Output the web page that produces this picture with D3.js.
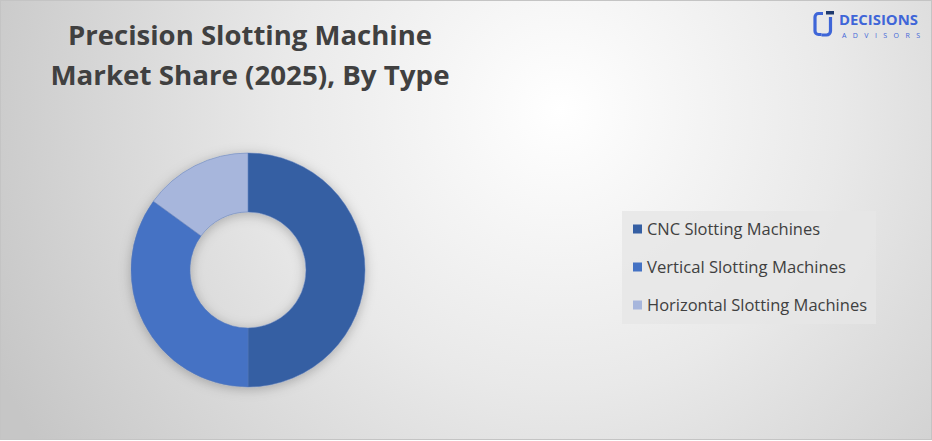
<!DOCTYPE html>
<html><head><meta charset="utf-8">
<script src="https://cdn.jsdelivr.net/npm/d3@7"></script>
<style>html,body{margin:0;padding:0;background:#fff;}svg{display:block;}</style>
</head><body>
<script>
const categories = ["CNC Slotting Machines", "Vertical Slotting Machines", "Horizontal Slotting Machines"];
const shares = [50, 35, 15];
const colors = ["#355FA3", "#4472C4", "#A7B6DC"];
const titleLines = ["Precision Slotting Machine", "Market Share (2025), By Type"];

const W = 932, H = 441;
const svg = d3.select("body").append("svg").attr("width", W).attr("height", H);
const defs = svg.append("defs");
const rg = defs.append("radialGradient").attr("id", "bg").attr("gradientUnits", "userSpaceOnUse")
  .attr("cx", 560).attr("cy", 110).attr("r", 620);
rg.append("stop").attr("offset", "0").attr("stop-color", "#ffffff");
rg.append("stop").attr("offset", "0.45").attr("stop-color", "#e9e9e9");
rg.append("stop").attr("offset", "1").attr("stop-color", "#c6c6c6");
const sh = defs.append("filter").attr("id", "shadow").attr("x", "-30%").attr("y", "-30%").attr("width", "160%").attr("height", "160%");
sh.append("feDropShadow").attr("dx", 0).attr("dy", 2).attr("stdDeviation", 6).attr("flood-color", "#000").attr("flood-opacity", 0.25);

svg.append("rect").attr("x", 0.5).attr("y", 0.5).attr("width", W - 1).attr("height", H - 2)
  .attr("fill", "url(#bg)").attr("stroke", "#c4c4c4");

// title
const title = svg.append("g");
titleLines.forEach((t, i) => {
  title.append("text").attr("x", 250).attr("y", 45 + i * 39.5).attr("text-anchor", "middle")
    .attr("font-family", "'Open Sans', sans-serif").attr("font-weight", 700)
    .attr("font-size", 27).attr("fill", "#404040").text(t);
});
const targetW = [364, 399];
title.selectAll("text").each(function(d, i) {
  d3.select(this).attr("textLength", targetW[i]).attr("lengthAdjust", "spacingAndGlyphs");
});

// donut
const cx = 248, cy = 270, rO = 117, rI = 58;
const pie = d3.pie().sort(null).value(d => d)(shares);
const arc = d3.arc().innerRadius(rI).outerRadius(rO);
const g = svg.append("g").attr("transform", `translate(${cx},${cy})`).attr("filter", "url(#shadow)");
g.selectAll("path").data(pie).join("path").attr("d", arc)
  .attr("fill", (d, i) => colors[i]).attr("stroke", "#5a7ab8").attr("stroke-width", 0.5);

// legend
const lg = svg.append("g");
lg.append("rect").attr("x", 622).attr("y", 211).attr("width", 254).attr("height", 113).attr("fill", "#e6e6e6").attr("opacity", 0.8);
const y = d3.scalePoint().domain(categories).range([229, 305]);
categories.forEach((c, i) => {
  lg.append("rect").attr("x", 633).attr("y", y(c) - 4.5).attr("width", 9).attr("height", 9).attr("fill", colors[i]);
  lg.append("text").attr("x", 647).attr("y", y(c) + 6).attr("font-family", "'Open Sans', sans-serif")
    .attr("font-size", 16).attr("fill", "#404040").text(c);
});
lg.selectAll("text").each(function(d, i) {
  const tw = [173, 199, 220][i];
  d3.select(this).attr("textLength", tw).attr("lengthAdjust", "spacingAndGlyphs");
});

// logo
const logo = svg.append("g");
logo.append("path").attr("d", "M823,13.5 h-4.5 a3.5,3.5 0 0 0 -3.5,3.5 v14 a3.5,3.5 0 0 0 3.5,3.5 h3")
  .attr("fill", "none").attr("stroke", "#3F66D8").attr("stroke-width", 3.2);
logo.append("path").attr("d", "M830.5,17 v14 a4,4 0 0 1 -4,4 h-5")
  .attr("fill", "none").attr("stroke", "#3F66D8").attr("stroke-width", 3.2);
logo.append("rect").attr("x", 826).attr("y", 11).attr("width", 8).attr("height", 3.5).attr("fill", "#1f3a6e");
logo.append("text").attr("x", 839).attr("y", 25).attr("font-family", "'Open Sans', sans-serif").attr("font-weight", 700)
  .attr("font-size", 14).attr("fill", "#3F66D8").attr("textLength", 79).attr("lengthAdjust", "spacingAndGlyphs").text("DECISIONS");
logo.append("text").attr("x", 842).attr("y", 37.5).attr("font-family", "'Open Sans', sans-serif")
  .attr("font-size", 7).attr("fill", "#3F66D8").attr("textLength", 78).attr("lengthAdjust", "spacing").text("ADVISORS");
</script>
</body></html>
